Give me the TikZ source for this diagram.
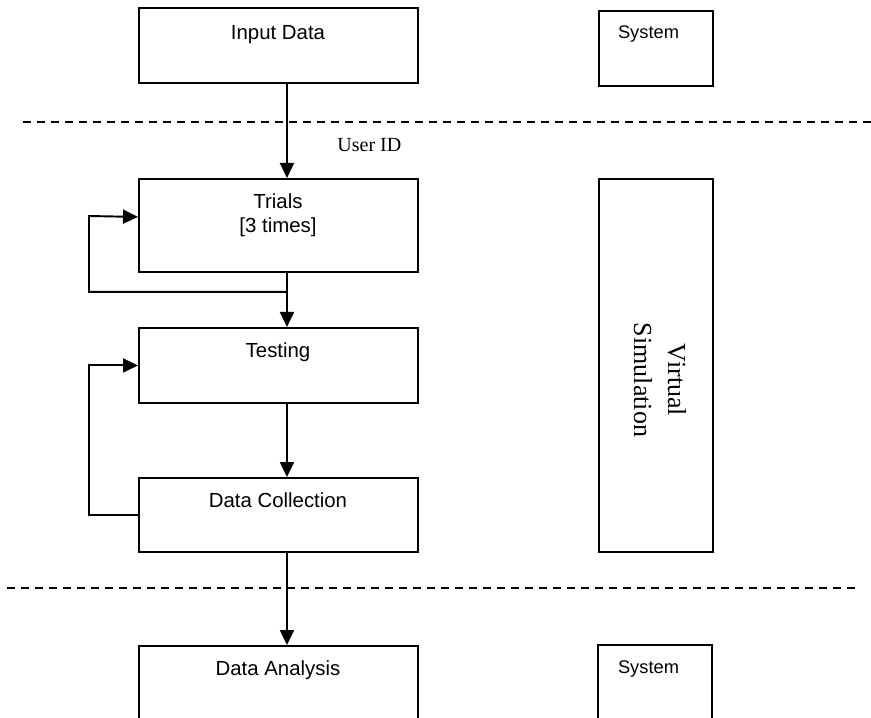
\documentclass[tikz,border=0pt]{standalone}
\usepackage{fontspec}
\setmainfont{Liberation Sans}
\newfontfamily\seriffont{Liberation Serif}
\usetikzlibrary{arrows.meta}

\begin{document}
\begin{tikzpicture}[
    box/.style={draw, line width=1.1pt, inner sep=0pt, anchor=north west, minimum width=5.58cm},
    sysbox/.style={draw, line width=1.1pt, inner sep=0pt, anchor=north west, minimum width=2.28cm},
    lbl/.style={anchor=base, inner sep=0pt, font=\fontsize{11.6}{14.2}\selectfont},
    syslbl/.style={anchor=base, inner sep=0pt, font=\fontsize{10.4}{12.5}\selectfont},
    arr/.style={line width=1.1pt, -{Triangle[length=0.3cm, width=0.28cm]}},
    sep/.style={line width=1pt, dash pattern=on 0.16cm off 0.12cm}
]

    \useasboundingbox (0, 0) rectangle (17.42, -14.36);

    % Boxes
    \node[box, minimum height=1.5cm] (input) at (2.76, -0.14) {};
    \node[sysbox, minimum height=1.5cm] (systop) at (11.96, -0.2) {};
    \node[box, minimum height=1.86cm] (trials) at (2.76, -3.56) {};
    \node[sysbox, minimum height=7.46cm] (virtual) at (11.96, -3.56) {};
    \node[box, minimum height=1.5cm] (testing) at (2.76, -6.54) {};
    \node[box, minimum height=1.48cm] (datacoll) at (2.76, -9.54) {};
    \node[box, minimum height=2cm] (analysis) at (2.76, -12.9) {};
    \node[sysbox, minimum height=2cm] (sysbot) at (11.94, -12.88) {};

    % Texts
    \node[lbl] (inputtxt) at (5.56, -0.79) {Input Data};
    \node[syslbl] (systoptxt) at (12.97, -0.77) {System};
    \node[lbl, align=center] (trialstxt) at (5.56, -4.66) {Trials\\{}[3 times]};
    \node[lbl] (testingtxt) at (5.56, -7.16) {Testing};
    \node[lbl] (datacolltxt) at (5.56, -10.14) {Data Collection};
    \node[lbl] (analysistxt) at (5.56, -13.5) {Data Analysis};
    \node[syslbl] (sysbottxt) at (12.97, -13.46) {System};
    \node[rotate=-90, align=center, inner sep=0pt, font=\seriffont\fontsize{14.8}{19.3}\selectfont] (virtualtxt) at (13.2, -7.6) {Virtual\\Simulation};
    \node[anchor=base west, inner sep=0pt, font=\seriffont\fontsize{11.4}{14}\selectfont] (userid) at (6.74, -3.04) {User ID};

    % Separators
    \draw[sep] (0.46, -2.44) -- (17.42, -2.44);
    \draw[sep] (0.14, -11.76) -- (17.1, -11.76);

    % Flow
    \draw[arr] ([xshift=0.17cm]input.south) -- ([xshift=0.17cm]trials.north);
    \draw[arr] ([xshift=0.17cm]trials.south) -- ([xshift=0.17cm]testing.north);
    \draw[arr] ([xshift=0.17cm]testing.south) -- ([xshift=0.17cm]datacoll.north);
    \draw[arr] ([xshift=0.17cm]datacoll.south) -- ([xshift=0.17cm]analysis.north);

    % Loops
    \draw[arr] ([xshift=0.17cm, yshift=-0.38cm]trials.south) -| (1.78, -4.32) -- ([yshift=0.17cm]trials.west);
    \draw[arr] (datacoll.west) -- ++(-0.98, 0) |- (testing.west);

\end{tikzpicture}
\end{document}
